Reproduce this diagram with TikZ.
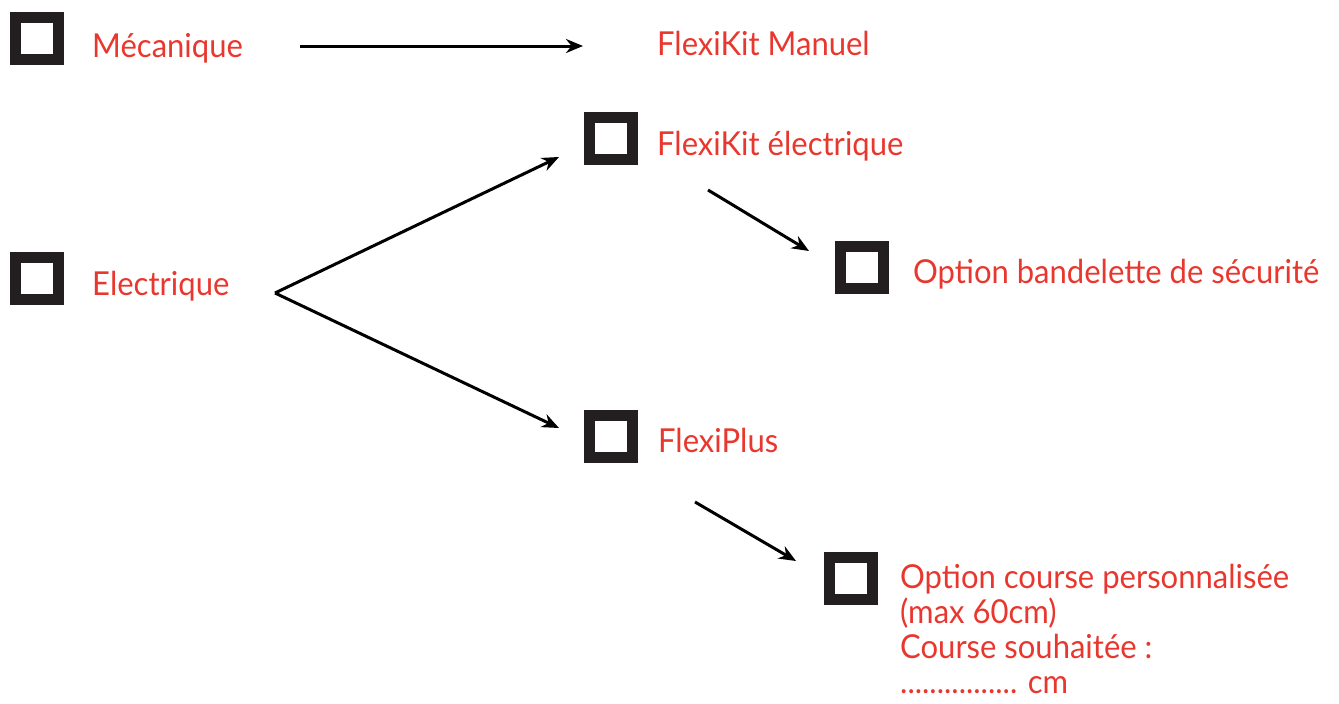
\documentclass[tikz,border=0pt]{standalone}
\usepackage{fontspec}
\setmainfont[FakeStretch=0.94]{Lato}
\usetikzlibrary{arrows.meta}
\definecolor{boxdark}{HTML}{231F20}
\definecolor{labred}{HTML}{E8372E}
\tikzset{
  chk/.style={draw=boxdark, fill=white, line width=11pt, inner sep=0pt, minimum width=43pt, minimum height=42pt},
  lab/.style={text=labred, anchor=base west, inner sep=0pt, font=\fontsize{33}{35}\selectfont},
  conn/.style={line width=3pt, -{Stealth[length=17pt,width=14pt]}}
}
\begin{document}
\begin{tikzpicture}[x=1pt,y=-1pt]
\useasboundingbox (0,0) rectangle (1339,704);
% checkboxes
\node[chk] (bMec) at (37,38.5) {};
\node[chk] (bEle) at (37,278) {};
\node[chk] (bFKE) at (611,138) {};
\node[chk] (bBand) at (862,267) {};
\node[chk] (bFP) at (611,436) {};
\node[chk] (bCourse) at (850.5,578.5) {};
% labels
\node[lab] (tMec) at (92,57) {Mécanique};
\node[lab] (tFKM) at (657,55) {FlexiKit Manuel};
\node[lab] (tEle) at (92,295) {Electrique};
\node[lab] (tFKE) at (657,155) {FlexiKit électrique};
\node[lab] (tBand) at (913,283) {Option bandelette de sécurité};
\node[lab] (tFP) at (658,452) {FlexiPlus};
\node[lab] (tCourse1) at (900,588) {Option course personnalisée};
\node[lab] (tCourse2) at (900,623) {(max 60cm)};
\node[lab] (tCourse3) at (900,658) {Course souhaitée :};
\node[lab] (tCourse4) at (900,693) {................ cm};
% connector ends
\coordinate (m0) at (300,46);
\coordinate (m1) at (583,46);
\coordinate (e0) at (275,293);
\coordinate (e1) at (559,157);
\coordinate (e2) at (559,428);
\coordinate (k0) at (708,190);
\coordinate (k1) at (809,251);
\coordinate (p0) at (695,502);
\coordinate (p1) at (796,561);
\draw[conn] (m0) -- (m1);
\draw[conn] (e0) -- (e1);
\draw[conn] (e0) -- (e2);
\draw[conn] (k0) -- (k1);
\draw[conn] (p0) -- (p1);
\end{tikzpicture}
\end{document}
